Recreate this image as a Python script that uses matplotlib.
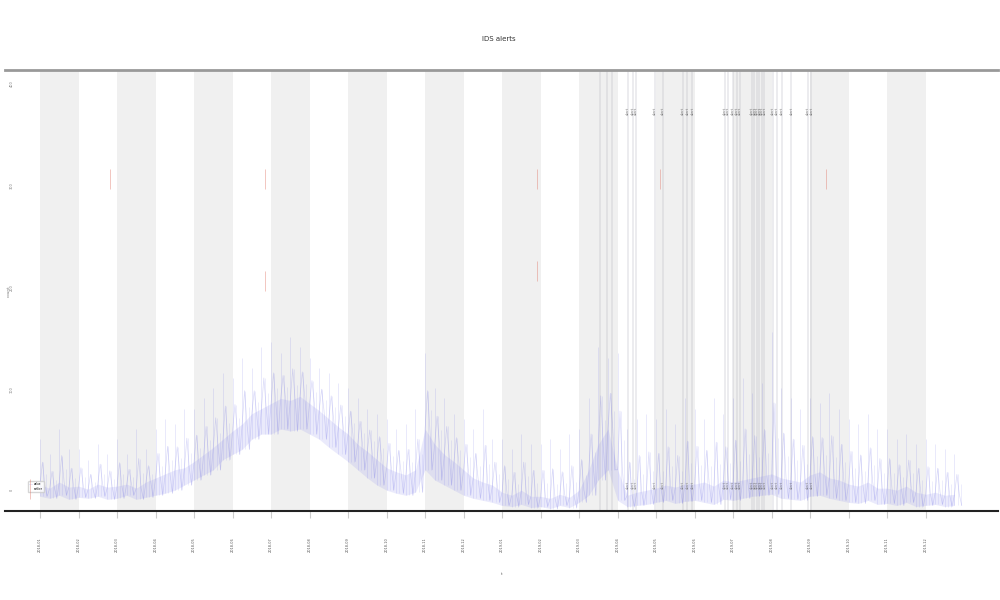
import numpy as np
import matplotlib
matplotlib.use("Agg")
import matplotlib.pyplot as plt

# month index of each bin start (4 bins per month)
bins_per_month = 4
n_months = 24
tick_labels = ["2018-%02d" % m for m in range(1, 13)] + ["2019-%02d" % m for m in range(1, 13)]

# hand read series (approximate counts)
mid = [5, 2, 8, 3, 4, 1, 6, 3, 4, 6, 2, 8,
       12, 16, 20, 22, 28, 35, 42, 50, 58, 65, 75, 80,
       85, 90, 88, 92, 85, 78, 70, 62, 55, 45, 38, 30,
       22, 18, 15, 20, 60, 45, 35, 28, 20, 12, 8, 5,
       -2, -5, 0, -6, -6, -8, -4, -7, 0, 20, 45, 60,
       20, -5, -2, 0, 2, 5, 3, 6, 6, 8, 4, 10,
       8, 10, 12, 14, 16, 12, 10, 8, 15, 18, 12, 10,
       6, 4, 8, 2, 2, 0, 4, -2, -4, -2, -5, -4]
peak = [50, 35, 60, 40, 40, 30, 45, 35, 50, 35, 60, 40,
        60, 70, 65, 80, 80, 90, 100, 115, 110, 130, 120, 140,
        145, 135, 150, 140, 130, 120, 115, 105, 100, 90, 80, 75,
        70, 60, 65, 80, 135, 100, 90, 75, 70, 60, 80, 50,
        50, 40, 55, 45, 45, 50, 40, 55, 60, 90, 140, 130,
        135, 60, 70, 75, 70, 80, 65, 90, 80, 70, 90, 75,
        90, 110, 95, 105, 155, 100, 90, 80, 90, 85, 95, 80,
        70, 65, 75, 60, 60, 50, 55, 45, 50, 45, 40, 35]
low = [-6, -8, -5, -9, -7, -8, -6, -9, -8, -5, -9, -7,
       -5, -3, 0, 5, 10, 15, 20, 30, 35, 40, 50, 55,
       55, 60, 58, 60, 55, 50, 42, 35, 28, 20, 12, 5,
       0, -3, -5, -2, 20, 10, 5, 0, -5, -8, -10, -12,
       -15, -16, -14, -17, -16, -18, -15, -17, -12, -5, 10, 20,
       -10, -16, -15, -14, -12, -10, -13, -11, -10, -12, -14, -9,
       -10, -8, -6, -5, -4, -8, -9, -10, -6, -5, -8, -10,
       -12, -13, -10, -14, -13, -15, -12, -16, -15, -14, -16, -15]

# event markers (month positions)
events = [14.55, 14.73, 14.86, 15.27, 15.40, 15.48, 15.97, 16.18, 16.70, 16.81,
          16.94, 17.79, 17.87, 18.00, 18.10, 18.18, 18.49, 18.55, 18.62, 18.68,
          18.75, 18.81, 19.04, 19.14, 19.27, 19.51, 19.95, 20.03]
labeled_events = events[3:]

# outliers (red)
out_x = [1.82, 5.84, 5.84, 12.9, 12.9, 16.1, 20.4]
out_y = [305, 305, 205, 305, 215, 305, 305]

fig = plt.figure(figsize=(10, 6), dpi=100)
ax = fig.add_axes([0.005, 0.148, 0.993, 0.735])

# alternating month bands
for m in range(0, n_months, 2):
    ax.axvspan(m, m + 1, color="#f0f0f0", zorder=0, lw=0)

for e in events:
    ax.axvline(e, color="#a8a8b4", alpha=0.25, lw=1.2, zorder=1)

step = 1 / bins_per_month
x = np.arange(len(mid)) * step
mid = np.array(mid)
peak = np.array(peak)
low = np.array(low)
half = (mid + peak) / 2

# dense thin spikes
ax.vlines(x, low, peak, color="#7070e8", alpha=0.18, lw=0.6, zorder=2)
ax.vlines(x + step / 3, low, half, color="#7070e8", alpha=0.15, lw=0.6, zorder=2)
ax.vlines(x + 2 * step / 3, low, (mid + half) / 2, color="#7070e8", alpha=0.15, lw=0.6, zorder=2)
ax.fill_between(x, low, mid, color="#9090ee", alpha=0.18, lw=0, zorder=2)

# noisy line through mid / low inside each bin
zx, zy = [], []
for i in range(len(mid)):
    zx += [x[i], x[i] + step * 0.25, x[i] + step * 0.5, x[i] + step * 0.75]
    zy += [mid[i], half[i], mid[i], low[i]]
ax.plot(zx, zy, color="#5a5ae0", alpha=0.22, lw=0.5, zorder=3, label="value")

ax.plot(out_x, out_y, ls="none", marker="|", ms=14, mew=0.7, color="#e07060",
        alpha=0.4, zorder=4, label="outlier")

for e in labeled_events:
    ax.text(e, 372, "alert", rotation=90, fontsize=2.5, color="#444444",
            ha="center", va="center", alpha=0.7)
    ax.text(e, 5, "alert", rotation=90, fontsize=2.5, color="#444444",
            ha="center", va="center", alpha=0.6)

ax.set_xlim(-0.91, 24.88)
ax.set_ylim(-20.6, 411.8)
ax.set_xticks(range(n_months))
ax.set_xticklabels(tick_labels, rotation=90, fontsize=2.5, color="#555555")
ax.set_yticks([0, 100, 200, 300, 400])
ax.set_yticklabels(["0", "100", "200", "300", "400"], rotation=90, fontsize=2.5,
                   color="#777777")
ax.tick_params(axis="x", length=5, color="#cccccc", pad=14)
ax.tick_params(axis="y", length=0, pad=-6)

for s in ["left", "right"]:
    ax.spines[s].set_visible(False)
ax.spines["top"].set_color("#999999")
ax.spines["top"].set_linewidth(2)
ax.spines["bottom"].set_color("#222222")
ax.spines["bottom"].set_linewidth(1.5)

ax.set_title("IDS alerts", fontsize=5, pad=21, color="#333333")
ax.title.set_position((0.497, 1.0))
ax.set_xlabel("t", fontsize=3, labelpad=14, color="#555555")
ax.set_ylabel("count", fontsize=3, labelpad=-4, color="#777777")
ax.legend(loc="lower left", bbox_to_anchor=(0.022, 0.04), fontsize=2,
          frameon=True, handlelength=1, borderpad=0.3)

fig.savefig("out.png", dpi=100)
